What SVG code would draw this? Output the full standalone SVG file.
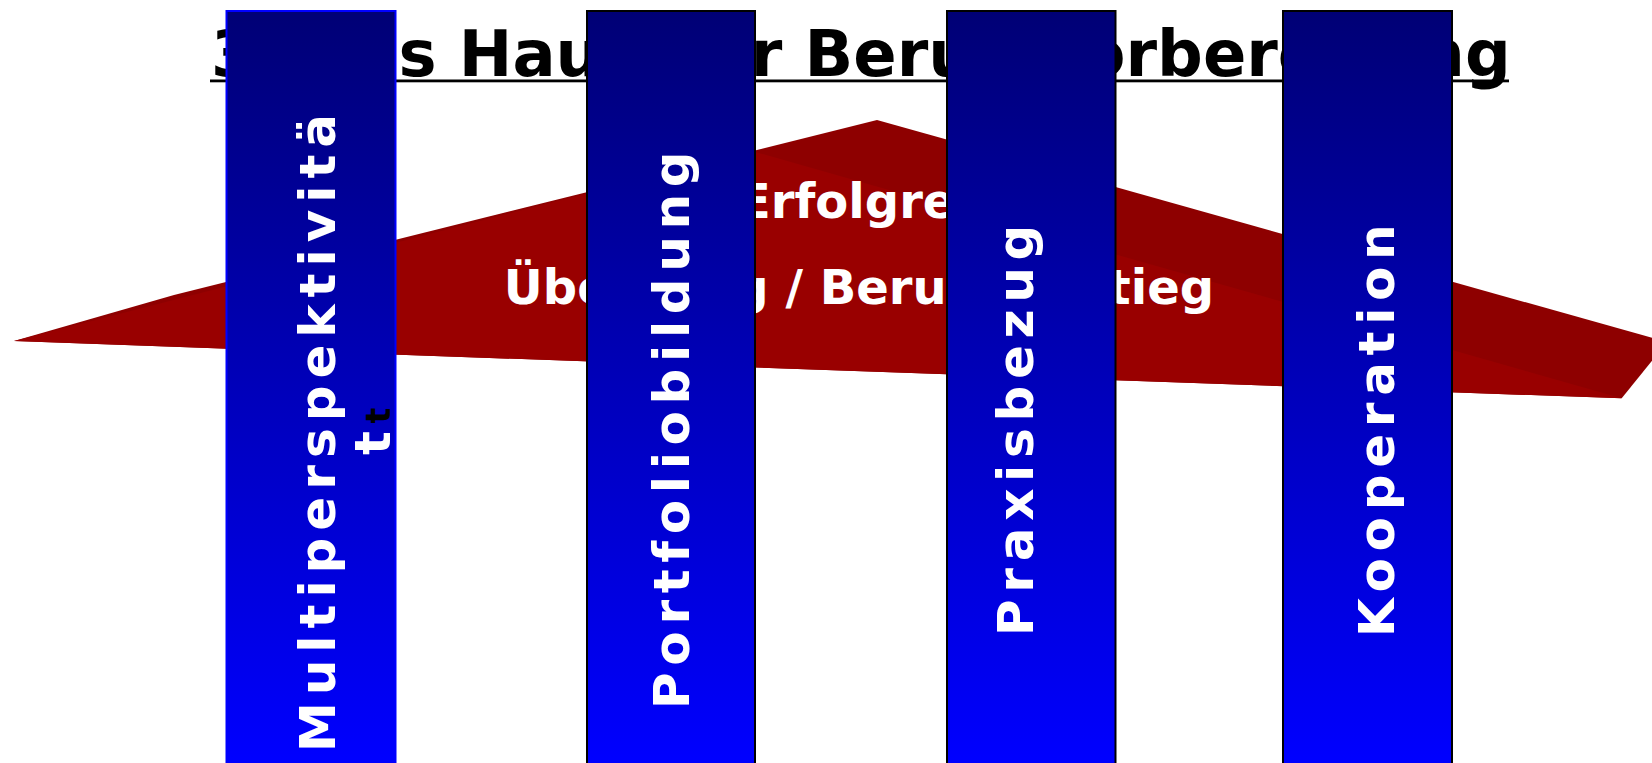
<svg xmlns="http://www.w3.org/2000/svg" width="1652" height="763" viewBox="0 0 1652 763">
  <defs>
    <!-- navy at the capital, bright blue at the foot -->
    <linearGradient id="pillarFill" gradientUnits="userSpaceOnUse" x1="0" y1="11" x2="0" y2="763">
      <stop offset="0" stop-color="#000075"/>
      <stop offset="1" stop-color="#0000FF"/>
    </linearGradient>
    <style>
      .title { font-family: "DejaVu Sans", sans-serif; font-weight: bold; font-size: 64px; fill: #000; }
      .roofText { font-family: "DejaVu Sans", sans-serif; font-weight: bold; font-size: 48px; fill: #fff; }
      .pillar { fill: url(#pillarFill); stroke: #000; stroke-width: 2; }
      .pillarText { font-family: "DejaVu Sans", sans-serif; font-weight: bold; font-size: 50px; fill: #fff; letter-spacing: 6.7px; }
    </style>
  </defs>

  <rect width="1652" height="763" fill="#fff"/>

  <!-- heading with underline -->
  <g id="title">
    <text class="title" x="211" y="76">3. Das Haus der Berufsvorbereitung</text>
    <rect x="210" y="79.5" width="1299" height="2.8" fill="#000"/>
  </g>

  <!-- roof: dark top face behind, lighter front face on top -->
  <g id="roof">
    <polygon points="14,341 174,295 877,120 1667,342 1621.7,398.3" fill="#8E0000"/>
    <polygon points="14,341 752,151 1621.7,398.3" fill="#990000"/>
    <text class="roofText" x="738" y="218">Erfolgreicher</text>
    <text class="roofText" x="859" y="304" text-anchor="middle">Übergang / Berufseinstieg</text>
  </g>

  <!-- four pillars -->
  <g id="pillar-multiperspektivitaet">
    <rect class="pillar" x="226.5" y="11" width="169" height="770" style="stroke:#0000FF"/>
    <text class="pillarText" transform="translate(335,752) rotate(-90)" style="letter-spacing:7px">Multiperspektivitä</text>
    <text class="pillarText" transform="translate(390,455) rotate(-90)">t</text>
    <text class="pillarText" transform="translate(390,423.5) rotate(-90)" style="fill:#000;font-size:33px;letter-spacing:0">t</text>
  </g>

  <g id="pillar-portfoliobildung">
    <rect class="pillar" x="587" y="11" width="168" height="770"/>
    <text class="pillarText" transform="translate(689,709) rotate(-90)">Portfoliobildung</text>
  </g>

  <g id="pillar-praxisbezug">
    <rect class="pillar" x="947" y="11" width="168.5" height="770"/>
    <text class="pillarText" transform="translate(1033,636) rotate(-90)">Praxisbezug</text>
  </g>

  <g id="pillar-kooperation">
    <rect class="pillar" x="1283" y="11" width="169" height="770"/>
    <text class="pillarText" transform="translate(1394,637) rotate(-90)">Kooperation</text>
  </g>
</svg>
